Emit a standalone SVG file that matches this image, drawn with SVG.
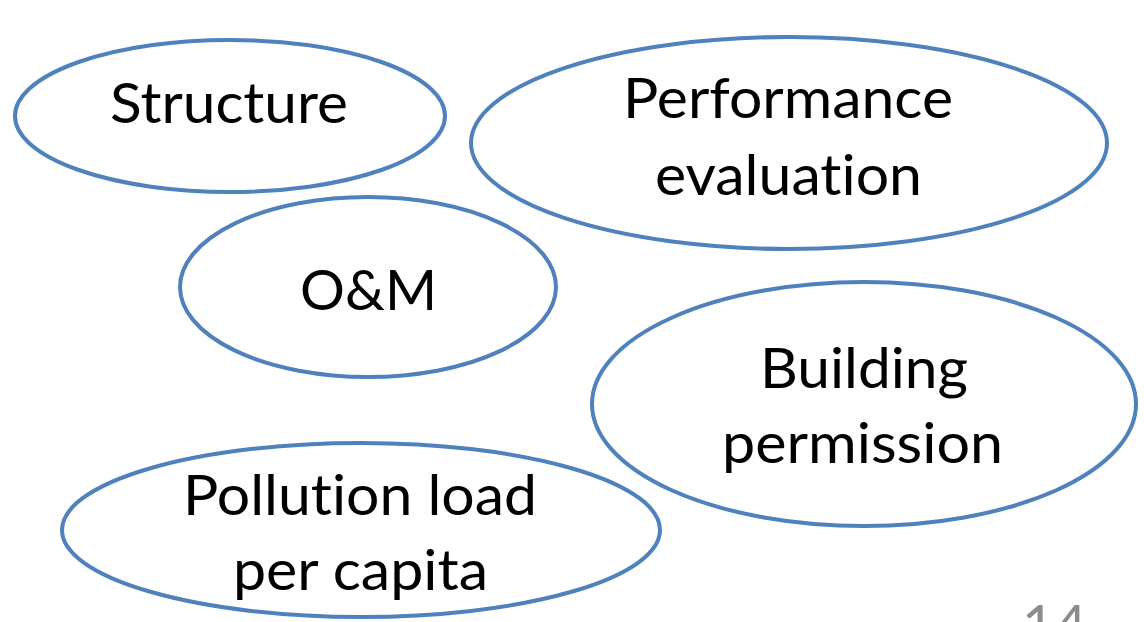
<svg xmlns="http://www.w3.org/2000/svg" width="1144" height="622" viewBox="0 0 1144 622">
  <style>
    .bubble { fill: #ffffff; stroke: #4f81bd; stroke-width: 4; }
    .label { font-family: Lato, "Liberation Sans", sans-serif; font-size: 56px; fill: #000000; font-variant-ligatures: none; }
    .page { font-family: Lato, "Liberation Sans", sans-serif; font-size: 56px; fill: #8c8c8c; }
  </style>
  <rect width="1144" height="622" fill="#ffffff"/>

  <g id="structure">
    <ellipse class="bubble" cx="230" cy="116" rx="215" ry="76"/>
    <text class="label" x="110" y="123" textLength="238" lengthAdjust="spacingAndGlyphs">Structure</text>
  </g>

  <g id="performance-evaluation">
    <ellipse class="bubble" cx="789" cy="143" rx="318" ry="106"/>
    <text class="label" x="623" y="118" textLength="330" lengthAdjust="spacingAndGlyphs">Performance</text>
    <text class="label" x="655" y="195" textLength="267" lengthAdjust="spacingAndGlyphs">evaluation</text>
  </g>

  <g id="om">
    <ellipse class="bubble" cx="368" cy="287" rx="188" ry="90"/>
    <text class="label" x="300" y="310" textLength="137" lengthAdjust="spacingAndGlyphs">O&amp;M</text>
  </g>

  <g id="building-permission">
    <ellipse class="bubble" cx="864" cy="404" rx="272" ry="122"/>
    <text class="label" x="760" y="388" textLength="208" lengthAdjust="spacingAndGlyphs">Building</text>
    <text class="label" x="722" y="463" textLength="281" lengthAdjust="spacingAndGlyphs">permission</text>
  </g>

  <g id="pollution-load">
    <ellipse class="bubble" cx="361" cy="530" rx="299" ry="87"/>
    <text class="label" x="183" y="515" textLength="354" lengthAdjust="spacingAndGlyphs">Pollution load</text>
    <text class="label" x="233" y="590" textLength="255" lengthAdjust="spacingAndGlyphs">per capita</text>
  </g>

  <g id="connectors"/>

  <!-- slide number, running off the bottom edge -->
  <text class="page" x="1022" y="645">14</text>
</svg>
